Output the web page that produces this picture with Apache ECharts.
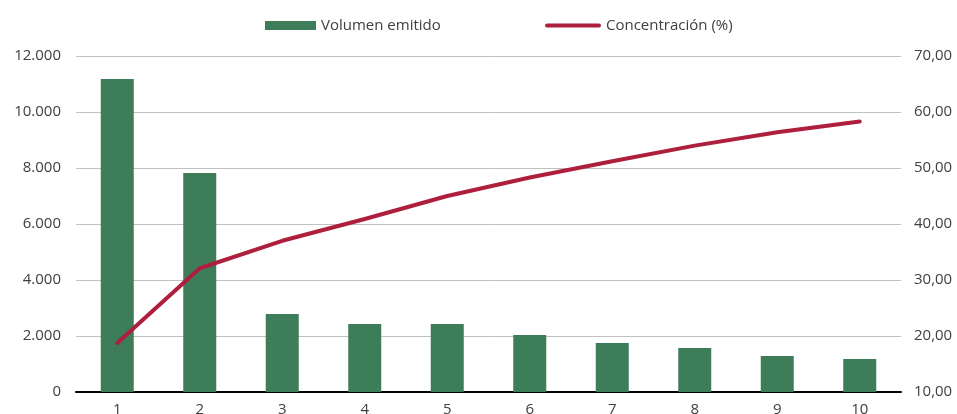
<!DOCTYPE html>
<html>
<head>
<meta charset="utf-8">
<script src="https://cdn.jsdelivr.net/npm/echarts@6/dist/echarts.min.js"></script>
<style>html,body{margin:0;padding:0;background:#fff;}#c{width:957px;height:414px;}</style>
</head>
<body>
<div id="c"></div>
<script>
const categories = ['1','2','3','4','5','6','7','8','9','10'];
const volumen = [11180, 7820, 2790, 2430, 2430, 2040, 1750, 1570, 1290, 1180];
const concentracion = [18.75, 32.1, 37.0, 40.9, 45.0, 48.3, 51.2, 54.0, 56.4, 58.3];
const leftTicks = {min: 0, max: 12000, interval: 2000};
const rightTicks = {min: 10, max: 70, interval: 10};

const font = 'Open Sans';
const txt = '#404040';
const chart = echarts.init(document.getElementById('c'), null, {renderer: 'canvas'});
chart.setOption({
  animation: false,
  textStyle: {fontFamily: font},
  legend: [
    {data: [{name: 'Volumen emitido', icon: 'rect'}], left: 260, top: 13, itemWidth: 51, itemHeight: 9, itemGap: 6,
     textStyle: {fontFamily: font, fontSize: 15, color: txt}},
    {data: [{name: 'Concentración (%)', icon: 'path://M2,0 L54,0 A2,2 0 0 1 54,4 L2,4 A2,2 0 0 1 2,0 Z'}], left: 540, top: 13, itemWidth: 56, itemHeight: 5, itemGap: 6,
     textStyle: {fontFamily: font, fontSize: 15, color: txt}}
  ],
  grid: {left: 76, right: 56, top: 56, bottom: 22, containLabel: false, outerBoundsMode: 'none'},
  xAxis: {
    type: 'category', data: categories,
    axisLine: {lineStyle: {color: '#000', width: 2}},
    axisTick: {show: false},
    axisLabel: {fontFamily: font, fontSize: 15, color: txt, margin: 10}
  },
  yAxis: [
    {type: 'value', min: leftTicks.min, max: leftTicks.max, interval: leftTicks.interval,
     axisLine: {show: false}, axisTick: {show: false},
     splitLine: {lineStyle: {color: '#c0c0c0', width: 1}},
     axisLabel: {fontFamily: font, fontSize: 15, color: txt, margin: 15,
       formatter: v => v.toLocaleString('de-DE')}},
    {type: 'value', min: rightTicks.min, max: rightTicks.max, interval: rightTicks.interval,
     axisLine: {show: false}, axisTick: {show: false}, splitLine: {show: false},
     axisLabel: {fontFamily: font, fontSize: 15, color: txt, margin: 13,
       formatter: v => v.toFixed(2).replace('.', ',')}}
  ],
  series: [
    {name: 'Volumen emitido', type: 'bar', data: volumen, barWidth: '40%',
     itemStyle: {color: '#3e7d5a'}, yAxisIndex: 0},
    {name: 'Concentración (%)', type: 'line', data: concentracion, yAxisIndex: 1,
     showSymbol: false, symbol: 'none', lineStyle: {color: '#ad1f3d', width: 4, cap: 'round', join: 'round'},
     itemStyle: {color: '#ad1f3d'}, z: 5}
  ]
});
</script>
</body>
</html>
